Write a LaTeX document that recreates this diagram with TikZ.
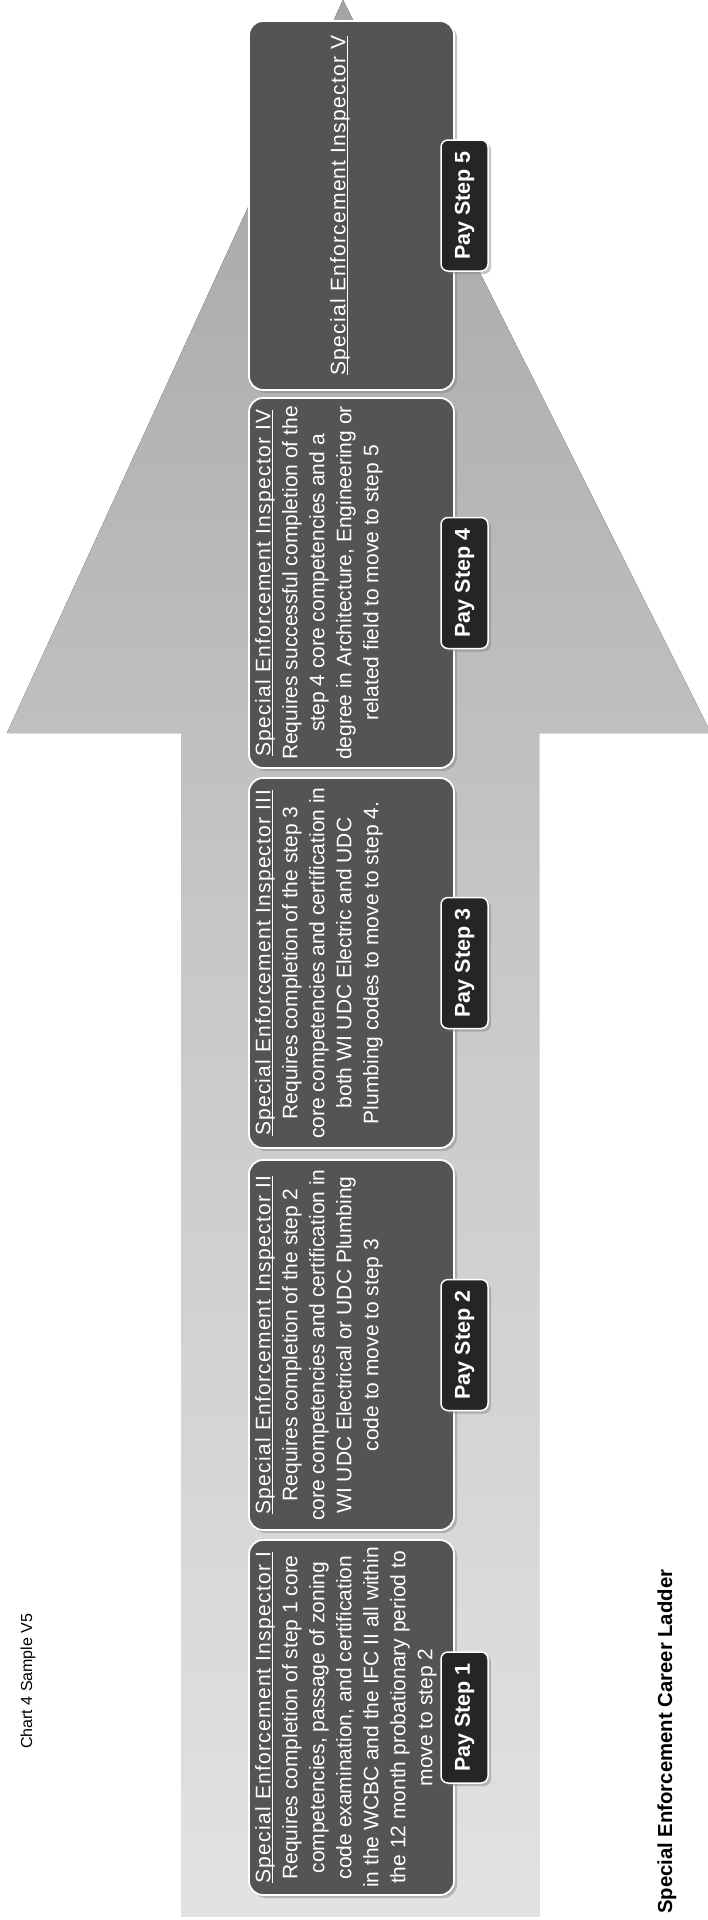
\documentclass[tikz,border=0pt]{standalone}
\usepackage{fontspec}
\setmainfont{Liberation Sans}
\usetikzlibrary{shadows}
\definecolor{boxgray}{HTML}{545454}
\definecolor{badgegray}{HTML}{252525}
\definecolor{arrtop}{HTML}{A4A4A4}
\definecolor{arrmid}{HTML}{C8C8C8}
\definecolor{arrbot}{HTML}{E2E2E2}
\newcommand\boxtitle[1]{{\addfontfeatures{LetterSpace=6}\setbox0\hbox{#1}\rlap{\vrule width\wd0 height -1.6pt depth 2.8pt}\box0}}
\begin{document}
\begin{tikzpicture}[x=1pt,y=1pt,
  stepbox/.style={draw=white, line width=1.8pt, fill=boxgray, rounded corners=14pt,
    minimum width=205pt, inner sep=0pt,
    drop shadow={shadow xshift=3pt, shadow yshift=-3pt, opacity=0.45}},
  steptext/.style={rotate=90, anchor=north, text=white, align=center,
    font=\fontsize{21}{27}\selectfont, inner sep=0pt},
  paybadge/.style={draw=white, line width=1.5pt, fill=badgegray, rounded corners=7pt,
    minimum width=47pt, minimum height=131pt, inner sep=0pt,
    drop shadow={shadow xshift=3pt, shadow yshift=-3pt, opacity=0.45}},
  paytext/.style={rotate=90, text=white, inner sep=0pt,
    font=\fontsize{21.5}{24}\selectfont\bfseries},
  pagetext/.style={rotate=90, anchor=base west, inner sep=0pt, text=black}]

\fill[white] (0,0) rectangle (708,-1920);
\begin{scope}
\clip (0,0) rectangle (708,-1920);
\fill[top color=arrtop, bottom color=arrbot, middle color=arrmid]
  (181,-1916) -- (181,-733) -- (7,-733) -- (343,0) -- (711,-733)
  -- (539,-733) -- (539,-1916) -- cycle;
\end{scope}

% step boxes
\node[stepbox, minimum height=369pt] (b5) at (351.5,-205.5) {};
\node[stepbox, minimum height=370pt] (b4) at (351.5,-583) {};
\node[stepbox, minimum height=370pt] (b3) at (351.5,-963) {};
\node[stepbox, minimum height=370pt] (b2) at (351.5,-1345) {};
\node[stepbox, minimum height=355pt] (b1) at (351.5,-1717.5) {};

% texts
\node[steptext] (t1) at (255,-1717.5) {\boxtitle{Special Enforcement Inspector I}\\
Requires completion of step 1 core\\
competencies, passage of zoning\\
code examination, and certification\\
in the WCBC and the IFC II all within\\
the 12 month probationary period to\\
move to step 2};
\node[steptext] (t2) at (255,-1345) {\boxtitle{Special Enforcement Inspector II}\\
Requires completion of the step 2\\
core competencies and certification in\\
WI UDC Electrical or UDC Plumbing\\
code to move to step 3};
\node[steptext] (t3) at (255,-963) {\boxtitle{Special Enforcement Inspector III}\\
Requires completion of the step 3\\
core competencies and certification in\\
both WI UDC Electric and UDC\\
Plumbing codes to move to step 4.};
\node[steptext] (t4) at (255,-583) {\boxtitle{Special Enforcement Inspector IV}\\
Requires successful completion of the\\
step 4 core competencies and a\\
degree in Architecture, Engineering or\\
related field to move to step 5};
\node[steptext, anchor=center] (t5) at (340,-205.5) {\boxtitle{Special Enforcement Inspector V}};

% pay step badges
\node[paybadge] (p1) at (464.5,-1717.5) {};
\node[paybadge] (p2) at (464.5,-1345) {};
\node[paybadge] (p3) at (464.5,-963) {};
\node[paybadge] (p4) at (464.5,-583) {};
\node[paybadge] (p5) at (464.5,-205.5) {};
\node[paytext] (q1) at (p1) {Pay Step 1};
\node[paytext] (q2) at (p2) {Pay Step 2};
\node[paytext] (q3) at (p3) {Pay Step 3};
\node[paytext] (q4) at (p4) {Pay Step 4};
\node[paytext] (q5) at (p5) {Pay Step 5};

% page texts
\node[pagetext, font=\fontsize{16}{19}\selectfont] (chart) at (32,-1749) {Chart 4 Sample V5};
\node[pagetext, font=\fontsize{20.3}{24}\selectfont\bfseries] (title) at (672,-1914) {Special Enforcement Career Ladder};
\end{tikzpicture}
\end{document}
